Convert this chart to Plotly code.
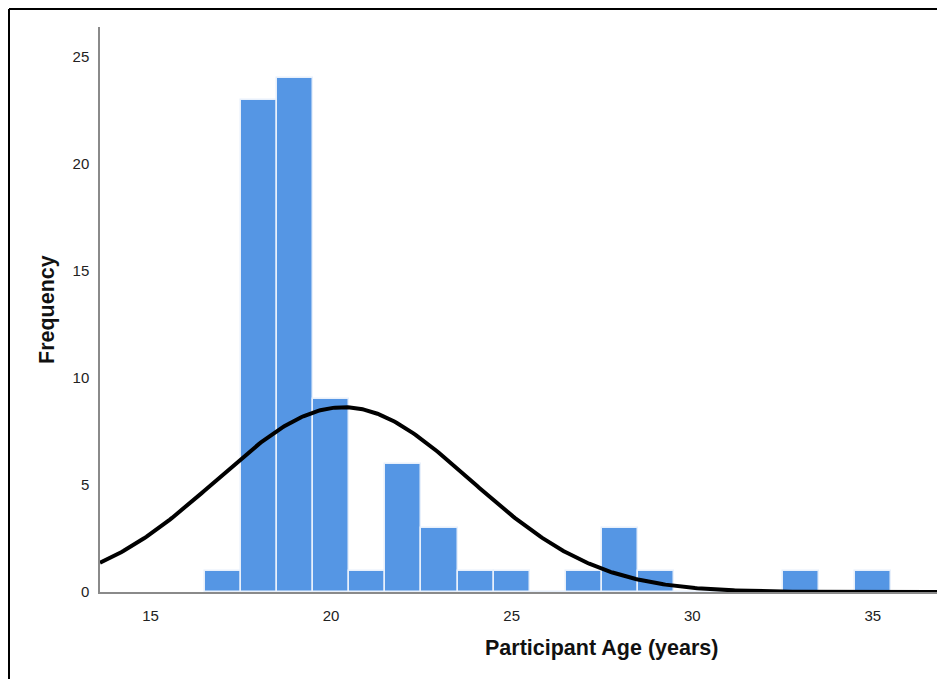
import numpy as np
import plotly.graph_objects as go

ages = [17, 18, 19, 20, 21, 22, 23, 24, 25, 26, 27, 28, 29, 30, 31, 32, 33, 34, 35]
counts = [1, 23, 24, 9, 1, 6, 3, 1, 1, 0, 1, 3, 1, 0, 0, 0, 1, 0, 1]
x_tick_vals = [15, 20, 25, 30, 35]
y_tick_vals = [0, 5, 10, 15, 20, 25]
x_title = "Participant Age (years)"
y_title = "Frequency"

a = np.array(ages, dtype=float)
c = np.array(counts, dtype=float)
n = c.sum()
mean = (a * c).sum() / n
sd = np.sqrt(((a - mean) ** 2 * c).sum() / (n - 1))
xr = [13.6, 37.0]
xs = np.linspace(xr[0], xr[1], 400)
ys = n * 1.0 / (sd * np.sqrt(2 * np.pi)) * np.exp(-0.5 * ((xs - mean) / sd) ** 2)

W, H = 937, 671
L, T, B = 92, 19, 87
PW, PH = W - L, H - T - B


def px(xp):
    return (xp - L) / PW


def py(yp):
    return (H - B - yp) / PH


fig = go.Figure()
fig.add_trace(go.Bar(x=ages, y=counts, width=1,
                     marker=dict(color="#5596E4", line=dict(color="#E8F0FB", width=1.5)),
                     showlegend=False))
fig.add_trace(go.Scatter(x=xs, y=ys, mode="lines",
                         line=dict(color="black", width=4), showlegend=False,
                         cliponaxis=False))

fig.update_layout(
    width=W, height=H,
    margin=dict(l=L, r=0, t=T, b=B, pad=0),
    paper_bgcolor="white", plot_bgcolor="white",
    bargap=0,
    font=dict(family="Liberation Sans, Arial, sans-serif", color="#222"),
    xaxis=dict(range=xr, tickvals=x_tick_vals, showgrid=False, zeroline=False,
               showline=True, linecolor="#8a8a8a", linewidth=1.5,
               ticks="", ticklabelstandoff=9, tickfont=dict(size=15)),
    yaxis=dict(range=[0, 26.4], tickvals=y_tick_vals, showgrid=False, zeroline=False,
               showline=True, linecolor="#8a8a8a", linewidth=1.5,
               ticks="", ticklabelstandoff=6, tickfont=dict(size=15)),
    annotations=[
        dict(text="<b>" + x_title + "</b>", xref="paper", yref="paper",
             x=px(593), y=py(640), xanchor="center", yanchor="middle",
             showarrow=False, font=dict(size=21.5, color="#111")),
        dict(text="<b>" + y_title + "</b>", xref="paper", yref="paper",
             x=px(39), y=py(301), xanchor="center", yanchor="middle", textangle=-90,
             showarrow=False, font=dict(size=21.5, color="#111")),
    ],
    shapes=[
        dict(type="line", xref="paper", yref="paper",
             x0=px(1), x1=1.05, y0=py(1), y1=py(1),
             line=dict(color="black", width=2)),
        dict(type="line", xref="paper", yref="paper",
             x0=px(1), x1=px(1), y0=py(1), y1=py(H + 5),
             line=dict(color="black", width=2)),
    ],
)

fig.write_html("out.html")
